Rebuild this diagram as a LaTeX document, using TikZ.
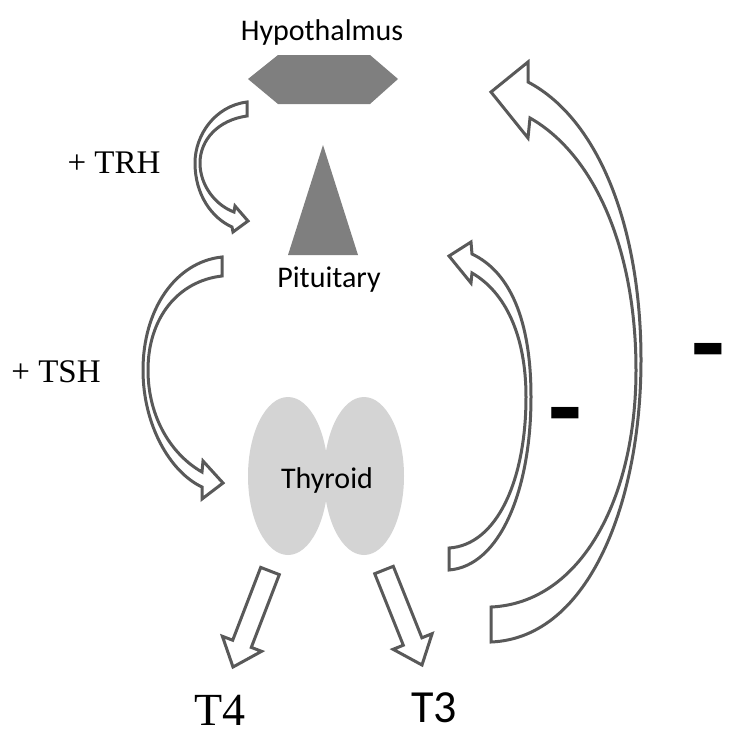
\documentclass[tikz,border=0pt]{standalone}
\usepackage{fontspec}
\setmainfont{Liberation Serif}
\setsansfont{Carlito}
\definecolor{glanddark}{HTML}{7F7F7F}
\definecolor{lobegray}{HTML}{D4D4D4}
\definecolor{arrowgray}{HTML}{595959}
\begin{document}
\begin{tikzpicture}[x=1pt,y=-1pt,
		gland/.style={fill=glanddark},
		lobe/.style={fill=lobegray},
		blockarrow/.style={draw=arrowgray,line width=3pt,fill=white,line join=miter},
		organ/.style={font=\sffamily\fontsize{30}{32}\selectfont,anchor=base},
		hormone/.style={font=\fontsize{33}{35}\selectfont,anchor=base},
		output/.style={font=\fontsize{46}{48}\selectfont,anchor=base},
		minus/.style={font=\sffamily\bfseries\fontsize{110}{110}\selectfont,anchor=base}]
		\tikzstyle{every node}+=[inner sep=0pt]
		\useasboundingbox (0,0) rectangle (735,750);
		\fill [gland] (248,79) -- (278,55) -- (370,55) -- (398,79) -- (370,104) -- (278,104) -- cycle;
		\node [organ] (hypo) at (322,40) {Hypothalmus};
		\fill [gland] (323,145) -- (358,255) -- (288,255) -- cycle;
		\node [organ] (pit) at (329,287) {Pituitary};
		\fill [lobe] (288,476) ellipse [x radius=40, y radius=79];
		\fill [lobe] (364,476) ellipse [x radius=40, y radius=79];
		\node [organ] (thy) at (327,488) {Thyroid};
		\draw [blockarrow] (247,102) .. controls (215,106) and (195,135) .. (195,163) .. controls (195,195) and (212,218) .. (232,227) -- (233,232) -- (248,221) -- (235,206) -- (234,212) .. controls (215,205) and (200,185) .. (200,163) .. controls (200,140) and (218,120) .. (247,116) -- cycle;
		\node [hormone] (trh) at (114,173) {+ TRH};
		\draw [blockarrow] (222,257) .. controls (175,262) and (143,310) .. (143,370) .. controls (143,425) and (170,472) .. (202,487) -- (202,499) -- (223,483) -- (203,461) -- (202,472) .. controls (172,455) and (148,418) .. (148,370) .. controls (148,318) and (178,281) .. (222,276) -- cycle;
		\node [hormone] (tsh) at (56,382) {+ TSH};
		\draw [blockarrow] (449,570) .. controls (500,566) and (531,490) .. (531,397) .. controls (531,320) and (510,272) .. (472,254) -- (471,242) -- (449,256) -- (471,283) -- (472,273) .. controls (505,292) and (526,335) .. (526,397) .. controls (526,480) and (497,545) .. (449,548) -- cycle;
		\node [minus] (short) at (565,444) {-};
		\draw [blockarrow] (491,642) .. controls (590,638) and (641,500) .. (641,360) .. controls (641,230) and (600,120) .. (528,82) -- (528,62) -- (491,92) -- (528,138) -- (530,118) .. controls (595,155) and (636,250) .. (636,370) .. controls (636,500) and (580,603) .. (491,607) -- cycle;
		\node [minus] (long) at (708,380) {-};
		\draw [blockarrow] (279.3,574.6) -- (251.3,647.4) -- (261.6,651.3) -- (233,667) -- (222.4,636.3) -- (232.7,640.2) -- (260.7,567.4) -- cycle;
		\node [output] (t4) at (220,725) {T4};
		\draw [blockarrow] (393.3,566.3) -- (421.9,637.8) -- (432.1,633.7) -- (422,665) -- (393.1,649.3) -- (403.3,645.2) -- (374.7,573.7) -- cycle;
		\node [output,font=\sffamily\fontsize{46}{48}\selectfont] (t3) at (434,722) {T3};
\end{tikzpicture}
\end{document}
